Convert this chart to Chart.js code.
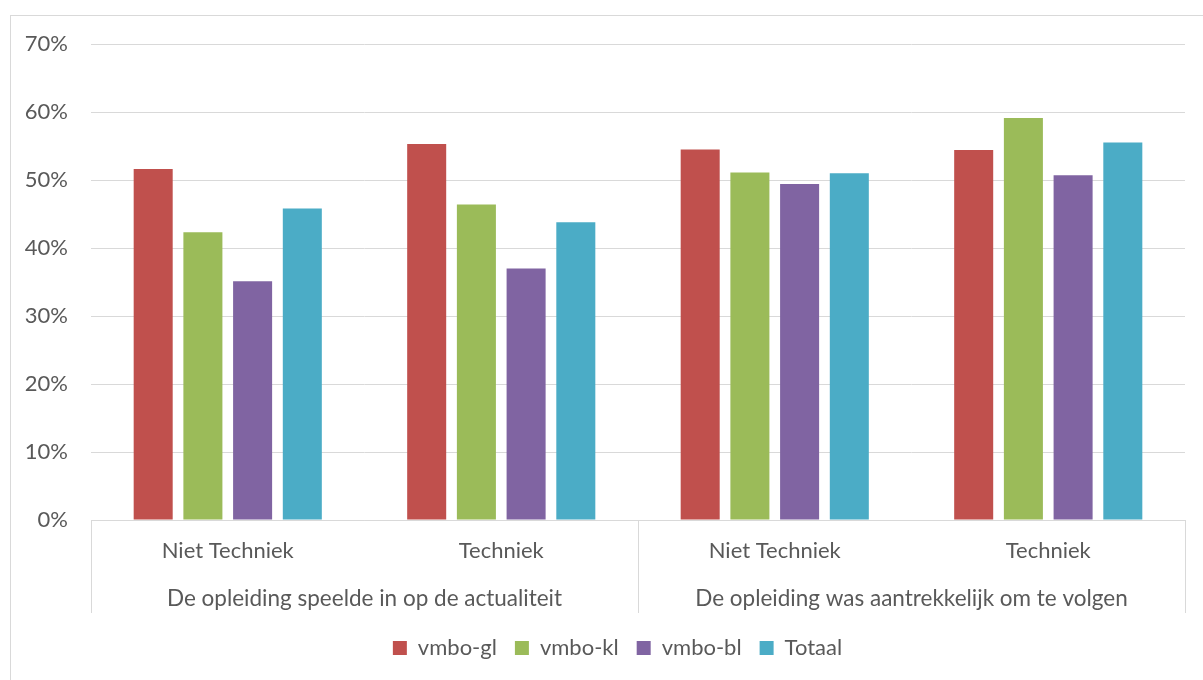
<!DOCTYPE html>
<html>
<head>
<meta charset="utf-8">
<script src="https://cdn.jsdelivr.net/npm/chart.js@4/dist/chart.umd.min.js"></script>
<style>
  html, body { margin: 0; padding: 0; background: #ffffff; }
  #wrap { width: 1203px; height: 680px; position: relative; }
</style>
</head>
<body>
<div id="wrap"><canvas id="c" width="1203" height="680"></canvas></div>
<script>
// Sub-categories along the x axis, and the two statements they belong to
const subCategories = ['Niet Techniek', 'Techniek', 'Niet Techniek', 'Techniek'];
const statements = [
  'De opleiding speelde in op de actualiteit',
  'De opleiding was aantrekkelijk om te volgen'
];

// Share (%) per school track
const vmboGl = [51.6, 55.3, 54.5, 54.4];
const vmboKl = [42.3, 46.4, 51.1, 59.1];
const vmboBl = [35.1, 37.0, 49.4, 50.7];
const totaal = [45.8, 43.8, 51.0, 55.5];

const yTicks = [0, 10, 20, 30, 40, 50, 60, 70];

const textColor = '#595959';
const lineColor = '#d9d9d9';
const font = { family: 'Lato, "Open Sans", sans-serif', size: 22 };
const groupFont = { family: 'Lato, "Open Sans", sans-serif', size: 22.5 };

// Thin frame around the chart object
const framePlugin = {
  id: 'frame',
  beforeDraw(chart) {
    const ctx = chart.ctx;
    ctx.save();
    ctx.strokeStyle = lineColor;
    ctx.lineWidth = 1;
    ctx.strokeRect(10.5, 15.5, chart.width + 20, chart.height + 20);
    ctx.restore();
  }
};

// Nudge the legend row a little to the right of the canvas centre
const legendShift = {
  id: 'legendShift',
  afterLayout(chart) {
    const lg = chart.legend;
    if (lg) { lg.left += 25; lg.right += 25; }
  }
};

new Chart(document.getElementById('c'), {
  type: 'bar',
  data: {
    labels: subCategories,
    datasets: [
      { label: 'vmbo-gl', data: vmboGl, backgroundColor: '#C0504D' },
      { label: 'vmbo-kl', data: vmboKl, backgroundColor: '#9BBB59' },
      { label: 'vmbo-bl', data: vmboBl, backgroundColor: '#8064A2' },
      { label: 'Totaal', data: totaal, backgroundColor: '#4BACC6' }
    ]
  },
  options: {
    responsive: false,
    animation: false,
    devicePixelRatio: 1,
    categoryPercentage: 0.727,
    barPercentage: 0.785,
    layout: { padding: { top: 44, right: 18, bottom: 11, left: 0 } },
    plugins: {
      tooltip: { enabled: false },
      legend: {
        position: 'bottom',
        labels: {
          color: textColor,
          font: font,
          boxWidth: 14,
          boxHeight: 14,
          padding: 18
        }
      }
    },
    scales: {
      x: {
        type: 'category',
        position: 'bottom',
        offset: true,
        grid: {
          offset: true,
          drawOnChartArea: false,
          drawTicks: true,
          tickLength: 93,
          color: (ctx) => (ctx.index === undefined || ctx.index % 2 === 0) ? lineColor : 'rgba(0,0,0,0)'
        },
        border: { display: true, color: lineColor },
        ticks: { color: textColor, font: font, padding: -75, maxRotation: 0, autoSkip: false },
        afterFit(axis) { axis.height = 46; }
      },
      x2: {
        type: 'category',
        position: 'bottom',
        labels: statements,
        offset: true,
        grid: { display: false },
        border: { display: false },
        ticks: { color: textColor, font: groupFont, padding: 11, maxRotation: 0, autoSkip: false },
        afterFit(axis) { axis.height = 53; }
      },
      y: {
        min: 0,
        max: 70,
        afterBuildTicks(axis) { axis.ticks = yTicks.map(v => ({ value: v })); },
        grid: { color: lineColor, drawTicks: false },
        border: { display: false },
        ticks: { color: textColor, font: font, padding: 23, callback: (v) => v + '%' },
        afterFit(axis) { axis.width = 91; }
      }
    }
  },
  plugins: [framePlugin, legendShift]
});
</script>
</body>
</html>
